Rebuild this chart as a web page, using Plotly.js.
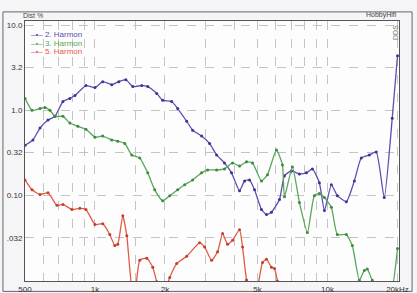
<!DOCTYPE html>
<html>
<head>
<meta charset="utf-8">
<script src="https://cdn.plot.ly/plotly-3.0.1.min.js"></script>
<style>
html,body{margin:0;padding:0;background:#f5f5f7;}
#chart{width:417px;height:293px;}
</style>
</head>
<body>
<div id="chart"></div>
<script>
// 2nd harmonic
const h2Freq = [500,541,580,628,673,728,780,820,914,1000,1080,1180,1266,1357,1454,1589,1686,1843,1955,2137,2268,2479,2630,2875,3110,3335,3605,3865,4185,4400,4620,4855,5200,5465,5740,6215,6530,6995,7575,8115,8610,9225,9700,10390,11025,12050,13045,13975,15125,16205,17540,18985,20000];
const h2Val = [0.39,0.45,0.62,0.77,0.85,1.27,1.38,1.49,1.95,1.85,2.17,2.0,2.17,2.29,1.9,1.95,1.9,1.58,1.31,1.27,1.05,0.745,0.585,0.50,0.41,0.30,0.242,0.185,0.114,0.149,0.153,0.117,0.069,0.060,0.064,0.090,0.171,0.195,0.18,0.185,0.206,0.142,0.067,0.134,0.10,0.085,0.149,0.277,0.30,0.325,0.095,0.81,4.36];
// 3rd harmonic
const h3Freq = [500,536,580,609,640,673,728,780,844,914,1000,1080,1180,1253,1343,1439,1558,1686,1807,1955,2096,2268,2430,2630,2875,3050,3335,3605,3905,4185,4486,4758,5200,5520,6030,6400,6530,7065,7575,8195,8780,9225,9700,10390,11025,12050,12785,13705,14395,14830,15585,18435,20000];
const h3Val = [1.38,1.0,1.05,1.08,1.0,0.85,0.85,0.71,0.65,0.60,0.485,0.50,0.45,0.435,0.41,0.30,0.277,0.185,0.117,0.087,0.10,0.117,0.134,0.153,0.185,0.20,0.20,0.206,0.242,0.223,0.249,0.242,0.149,0.176,0.343,0.229,0.097,0.217,0.083,0.037,0.10,0.106,0.095,0.073,0.035,0.035,0.026,0.0102,0.0133,0.0138,0.0102,0.006,0.024];
// 5th harmonic
const h5Freq = [500,536,580,628,686,728,796,861,914,1000,1080,1158,1217,1253,1317,1370,1439,1483,1558,1670,1772,1843,1955,2096,2246,2479,2818,2962,3174,3368,3538,3717,3905,4185,4312,4486,4712,5000,5254,5465,5740,5915,6090,6400];
const h5Val = [0.153,0.117,0.103,0.108,0.077,0.079,0.069,0.071,0.069,0.046,0.047,0.035,0.026,0.027,0.058,0.034,0.0085,0.007,0.0175,0.0185,0.0145,0.0098,0.0065,0.011,0.016,0.0195,0.028,0.025,0.0175,0.022,0.036,0.027,0.030,0.040,0.025,0.0103,0.0065,0.0085,0.0165,0.018,0.0145,0.014,0.010,0.006];

const seriesNames = ['2. Harmon','3. Harmon','5. Harmon'];
const seriesColors = ['#5a4fb3','#5aa65a','#e25a46'];
const markerColors = ['#3f3590','#3f8a3f','#c0402e'];

const xTickVals = [500,1000,2000,5000,10000,20000];
const xTickText = ['500','1k','2k','5k','10k','20kHz'];
const xMinorVals = [600,700,800,900,1500,3000,4000,6000,7000,8000,9000];
const yTickVals = [0.032,0.1,0.32,1.0,3.2,10];
const yTickText = ['.032','0.10','0.32','1.0','3.2','10.0'];

const xs = [h2Freq,h3Freq,h5Freq];
const ys = [h2Val,h3Val,h5Val];
const traces = xs.map((x,i)=>({
  type:'scatter', mode:'lines+markers', x:x, y:ys[i], name:seriesNames[i], showlegend:false,
  line:{color:seriesColors[i], width:1.3, shape:'spline', smoothing:0.5},
  marker:{color:markerColors[i], size:3}
}));

// legend drawn as text entries (short symbol + coloured name)
const legendAnn = seriesNames.map((n,i)=>({
  text:'<span style="color:'+seriesColors[i]+'">–•– '+n+'</span>',
  xref:'paper', yref:'paper', x:0.012, y:0.948 - i*0.033, xanchor:'left', yanchor:'middle',
  showarrow:false, font:{size:8, color:seriesColors[i]}
}));

const gridCol = '#c4c4c4';
const layout = {
  width:417, height:293,
  margin:{l:25, r:18, t:21, b:12, pad:0},
  paper_bgcolor:'#f5f5f7', plot_bgcolor:'#fdfdfd',
  font:{family:'Liberation Sans, Arial, sans-serif', size:8, color:'#333'},
  showlegend:false,
  xaxis:{type:'log', range:[Math.log10(500), Math.log10(20300)],
    tickmode:'array', tickvals:xTickVals, ticktext:xTickText, ticks:'', ticklen:0,
    showgrid:true, gridcolor:gridCol, griddash:'dash', gridwidth:1,
    minor:{tickmode:'array', tickvals:xMinorVals, showgrid:true, gridcolor:gridCol, griddash:'dash', gridwidth:1, ticks:''},
    showline:true, linecolor:'#555', linewidth:1, mirror:true, zeroline:false,
    tickfont:{size:8, color:'#333'}},
  yaxis:{type:'log', range:[-2, 1.047],
    tickmode:'array', tickvals:yTickVals, ticktext:yTickText, ticks:'', ticklen:0,
    showgrid:true, gridcolor:gridCol, griddash:'dash', gridwidth:1,
    showline:true, linecolor:'#555', linewidth:1, mirror:true, zeroline:false,
    tickfont:{size:8, color:'#333'}},
  annotations:[
    {text:'Dist %', xref:'paper', yref:'paper', x:-0.01, y:1.0, xanchor:'left', yanchor:'bottom', showarrow:false, font:{size:7, color:'#444'}},
    {text:'HobbyHifi', xref:'paper', yref:'paper', x:1.0, y:1.0, xanchor:'right', yanchor:'bottom', showarrow:false, font:{size:7, color:'#444'}},
    {text:'DDS', xref:'paper', yref:'paper', x:0.99, y:0.955, xanchor:'center', yanchor:'middle', textangle:-90, showarrow:false, font:{size:7, color:'#777'}}
  ].concat(legendAnn),
  shapes:[
    {type:'rect', xref:'paper', yref:'paper', x0:-0.059, x1:1.035, y0:-0.04, y1:1.035, line:{color:'#666', width:1}, fillcolor:'rgba(0,0,0,0)', layer:'below'}
  ]
};

Plotly.newPlot('chart', traces, layout, {staticPlot:true, displayModeBar:false});
</script>
</body>
</html>
